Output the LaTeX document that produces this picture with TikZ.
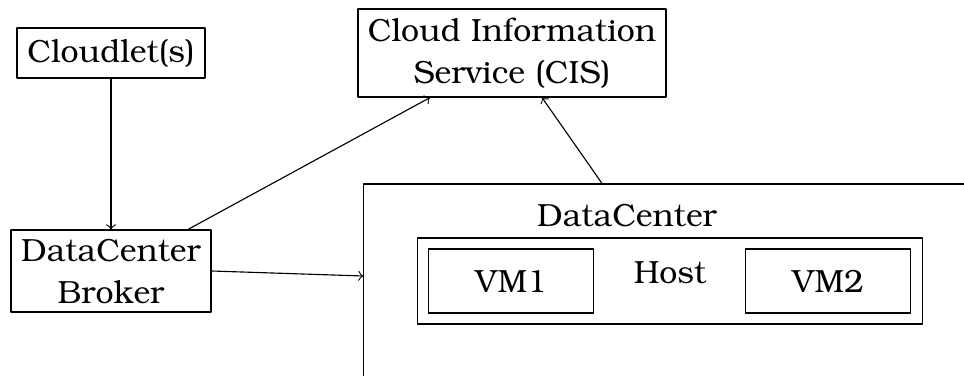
\documentclass[tikz,border=0pt]{standalone}
\usepackage[T1]{fontenc}
\usepackage{bookman}
\usetikzlibrary{calc}

\begin{document}
\begin{tikzpicture}[line cap=round,line join=round,>=to,x=0.0125cm,y=-0.0125cm,
		box/.style={draw,line width=0.4pt,inner sep=0pt,align=center,font=\fontsize{11.4}{15}\selectfont},
		lbl/.style={inner sep=0pt,font=\fontsize{11.4}{15}\selectfont}]
			\clip (0,0) rectangle (964,376);
			\node[box,minimum width=2.35cm,minimum height=0.625cm] (cloudlet) at (111,53) {Cloudlet(s)};
			\node[box,minimum width=3.85cm,minimum height=1.1cm] (cis) at (512,53) {Cloud Information\\Service (CIS)};
			\node[box,minimum width=2.5cm,minimum height=1.025cm] (broker) at (111,271) {DataCenter\\Broker};
			\node[box,minimum width=7.95cm,minimum height=2.95cm] (dc) at (682,302) {};
			\node[lbl] (dclabel) at (627,216) {DataCenter};
			\node[box,minimum width=6.3cm,minimum height=1.075cm] (host) at (670,281) {};
			\node[lbl] (hostlabel) at (670,272) {Host};
			\node[box,minimum width=2.0625cm,minimum height=0.8cm] (vm1) at (511,281) {VM1};
			\node[box,minimum width=2.0625cm,minimum height=0.8cm] (vm2) at (828,281) {VM2};
			\draw [->,line width=0.4pt] (cloudlet) -- (broker);
			\draw [->,line width=0.4pt] ($(broker.north)+(77,0)$) -- ($(cis.south)+(-82,0)$);
			\draw [->,line width=0.4pt] (broker.east) -- ($(dc.west)+(0,-26)$);
			\draw [->,line width=0.4pt] ($(dc.north)+(-80,0)$) -- ($(cis.south)+(30,0)$);
		\end{tikzpicture}
\end{document}
